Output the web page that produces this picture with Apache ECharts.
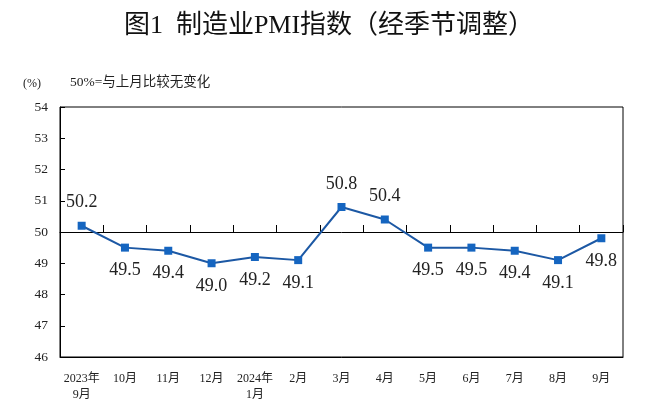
<!DOCTYPE html>
<html>
<head>
<meta charset="utf-8">
<script src="https://cdn.jsdelivr.net/npm/echarts@6/dist/echarts.min.js"></script>
<style>html,body{margin:0;padding:0;background:#fff;}#c{width:658px;height:412px;}</style>
</head>
<body>
<div id="c"></div>
<script>
var categories = ['2023年\n9月','10月','11月','12月','2024年\n1月','2月','3月','4月','5月','6月','7月','8月','9月'];
var pmiValues = [50.2, 49.5, 49.4, 49.0, 49.2, 49.1, 50.8, 50.4, 49.5, 49.5, 49.4, 49.1, 49.8];
var yTicks = [46, 47, 48, 49, 50, 51, 52, 53, 54];
var titleText = '图1  制造业PMI指数（经季节调整）';
var unitText = '(%)';
var noteText = '50%=与上月比较无变化';

var serif = '"Liberation Serif", "Times New Roman", "Noto Sans CJK SC", serif';
var chart = echarts.init(document.getElementById('c'), null, {renderer: 'canvas'});

var seriesData = pmiValues.map(function (v) {
  return {
    value: v,
    label: { position: v >= 50 ? 'top' : 'bottom' }
  };
});

chart.setOption({
  animation: false,
  backgroundColor: '#fff',
  title: {
    text: titleText,
    left: 'center',
    top: 13,
    padding: 0,
    textStyle: { fontFamily: serif, fontSize: 26, fontWeight: 'normal', color: '#111' }
  },
  graphic: [
    { type: 'text', left: 23, top: 78, style: { text: unitText, font: '12px ' + serif, fill: '#222' } },
    { type: 'text', left: 70, top: 76, style: { text: noteText, font: '13.5px ' + serif, fill: '#222' } }
  ],
  grid: {
    left: 60, right: 35, top: 107, bottom: 55,
    show: true, borderColor: '#000', borderWidth: 1, backgroundColor: 'transparent'
  },
  xAxis: [
    {
      type: 'category',
      data: categories,
      boundaryGap: true,
      position: 'bottom',
      axisLine: { show: true, lineStyle: { color: '#000', width: 1 } },
      axisTick: { show: false },
      axisLabel: { fontFamily: serif, fontSize: 12, color: '#222', margin: 14, lineHeight: 16, interval: 0 }
    },
    {
      type: 'category',
      data: categories,
      boundaryGap: true,
      position: 'bottom',
      offset: -125,
      axisLine: { show: true, onZero: false, lineStyle: { color: '#000', width: 1 } },
      axisTick: { show: true, inside: true, length: 7, interval: 0, lineStyle: { color: '#000' } },
      axisLabel: { show: false }
    }
  ],
  yAxis: {
    type: 'value',
    min: yTicks[0],
    max: yTicks[yTicks.length - 1],
    interval: 1,
    axisLine: { show: true, lineStyle: { color: '#000', width: 1 } },
    axisTick: { show: true, inside: true, length: 5, lineStyle: { color: '#000' } },
    splitLine: { show: false },
    axisLabel: { fontFamily: serif, fontSize: 13.5, color: '#222', margin: 12 }
  },
  series: [{
    type: 'line',
    xAxisIndex: 0,
    data: seriesData,
    symbol: 'rect',
    symbolSize: 8,
    itemStyle: { color: '#1565c0' },
    lineStyle: { color: '#1c58a4', width: 2 },
    label: {
      show: true,
      distance: 10,
      fontFamily: serif,
      fontSize: 18,
      color: '#222',
      formatter: function (p) { return p.value.toFixed(1); }
    }
  }]
});
</script>
</body>
</html>
